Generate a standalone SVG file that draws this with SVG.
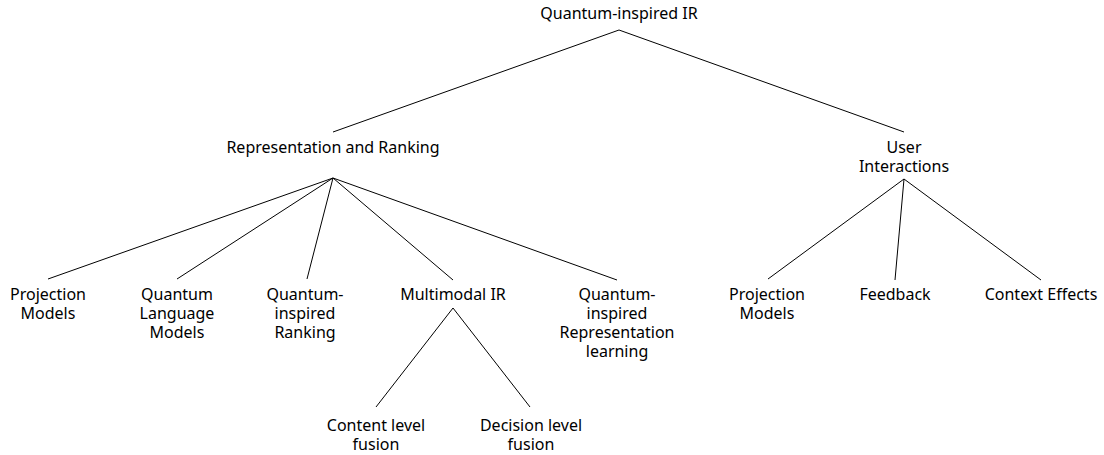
<svg xmlns="http://www.w3.org/2000/svg" width="1104" height="455" viewBox="0 0 1104 455">
<style>
text{font-family:"Noto Sans","Open Sans","DejaVu Sans",sans-serif;font-size:16px;fill:#000;text-anchor:middle}
.e{stroke:#000;stroke-width:1;fill:none}
</style>
<rect width="1104" height="455" fill="#fff"/>
<g id="connectors">
<path class="e" d="M619 30L333 132M619 30L904 132"/>
<path class="e" d="M333 178L48 279M333 178L177 279M333 178L307 279M333 178L453 280M333 178L617 280"/>
<path class="e" d="M904 179L768 279M904 179L895 280M904 179L1041 280"/>
<path class="e" d="M453 308L376 407M453 308L530 407"/>
</g>
<g id="root"><text x="619" y="19">Quantum-inspired IR</text></g>
<g id="rep"><text x="333" y="153">Representation and Ranking</text></g>
<g id="user"><text x="904" y="153">User</text><text x="904" y="172">Interactions</text></g>
<g id="proj1"><text x="48" y="300">Projection</text><text x="48" y="319">Models</text></g>
<g id="qlm"><text x="177" y="300">Quantum</text><text x="177" y="319">Language</text><text x="177" y="338">Models</text></g>
<g id="qir"><text x="305" y="300">Quantum-</text><text x="305" y="319">inspired</text><text x="305" y="338">Ranking</text></g>
<g id="mm"><text x="453" y="300">Multimodal IR</text></g>
<g id="qirl"><text x="617" y="300">Quantum-</text><text x="617" y="319">inspired</text><text x="617" y="338">Representation</text><text x="617" y="357">learning</text></g>
<g id="clf"><text x="376" y="431">Content level</text><text x="376" y="450">fusion</text></g>
<g id="dlf"><text x="531" y="431">Decision level</text><text x="531" y="450">fusion</text></g>
<g id="proj2"><text x="767" y="300">Projection</text><text x="767" y="319">Models</text></g>
<g id="fb"><text x="895" y="300">Feedback</text></g>
<g id="ce"><text x="1041" y="300">Context Effects</text></g>
</svg>
